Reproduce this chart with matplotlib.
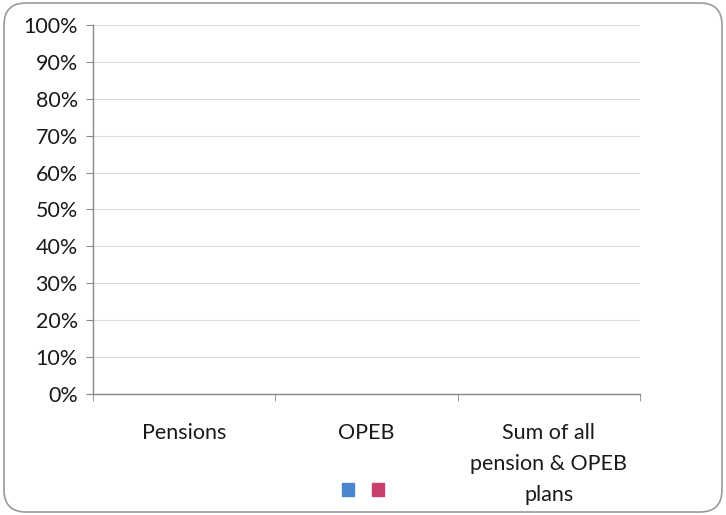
import matplotlib
matplotlib.use("Agg")
import matplotlib.pyplot as plt
import numpy as np
from matplotlib.patches import FancyBboxPatch, Patch

# chart data (both series are empty / zero in the source)
categories = ["Pensions", "OPEB", "Sum of all\npension & OPEB\nplans"]
series_a = [0, 0, 0]
series_b = [0, 0, 0]
series_colors = ["#4A86D0", "#C8406E"]
y_ticks = [0, 10, 20, 30, 40, 50, 60, 70, 80, 90, 100]

plt.rcParams["font.family"] = ["Lato", "DejaVu Sans"]
fs = 15.5

fig = plt.figure(figsize=(7.26, 5.15), dpi=100)
ax = fig.add_axes([0.128, 0.235, 0.7535, 0.7165])

x = np.arange(len(categories))
w = 0.3
ax.bar(x - w / 2, series_a, w, color=series_colors[0])
ax.bar(x + w / 2, series_b, w, color=series_colors[1])

ax.set_xlim(-0.5, len(categories) - 0.5)
ax.set_ylim(0, 100)
ax.set_yticks(y_ticks)
ax.set_yticklabels([f"{t}%" for t in y_ticks])
ax.yaxis.grid(True, color="#DCDCDC", linewidth=0.8)
ax.set_axisbelow(True)

# category labels centered, tick marks at the boundaries
ax.set_xticks(x)
ax.set_xticklabels(categories, linespacing=1.67, va="top")
ax.set_xticks(np.arange(-0.5, len(categories)), minor=True)
ax.tick_params(axis="x", which="major", length=0, pad=21, labelsize=fs, colors="#1A1A1A")
ax.tick_params(axis="x", which="minor", length=5, color="#888888", direction="out")
ax.tick_params(axis="y", length=5, color="#888888", pad=6, labelsize=fs, labelcolor="#1A1A1A")

for side in ["top", "right"]:
    ax.spines[side].set_visible(False)
for side in ["left", "bottom"]:
    ax.spines[side].set_color("#888888")
    ax.spines[side].set_linewidth(1.0)

# legend with unlabeled swatches
handles = [Patch(facecolor=c, edgecolor=c) for c in series_colors]
fig.legend(handles, ["", ""], loc="center", bbox_to_anchor=(0.5, 0.047), ncol=2,
           frameon=False, handlelength=0.6, handleheight=0.6, handletextpad=0,
           columnspacing=0.85, fontsize=14.5)

# rounded frame around the whole chart
frame = FancyBboxPatch((4, 3), 718, 509, boxstyle="round,pad=0,rounding_size=22",
                       transform=None, facecolor="none", edgecolor="#9A9A9A", linewidth=1.2)
fig.patches.append(frame)

fig.savefig("out.png", dpi=100)
